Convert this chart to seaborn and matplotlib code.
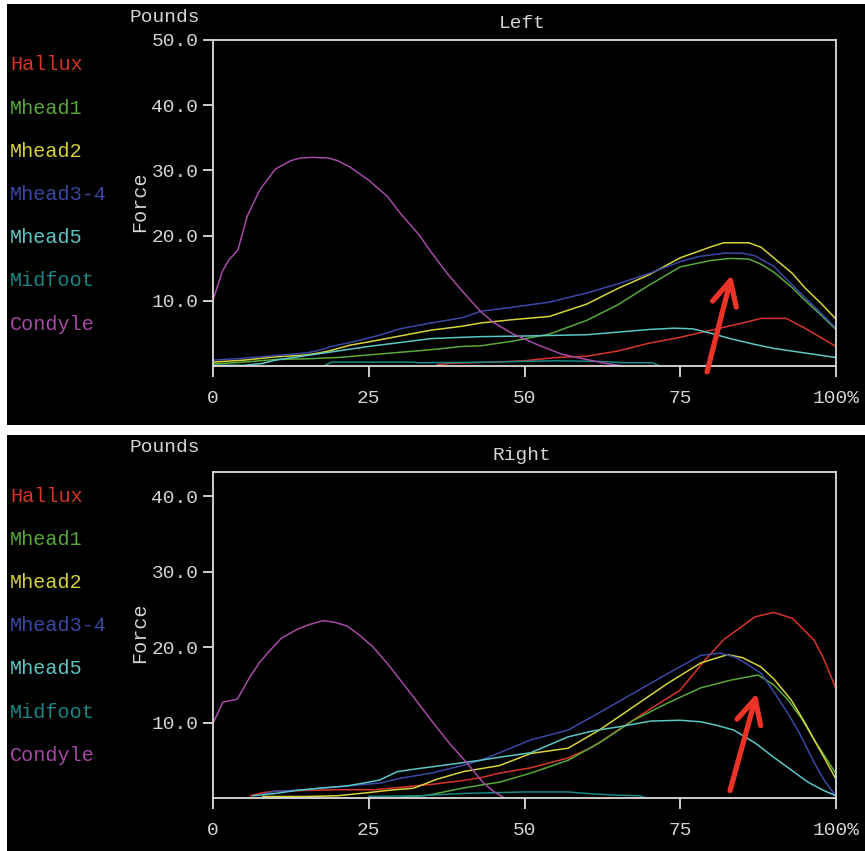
import matplotlib
matplotlib.use("Agg")
import matplotlib.pyplot as plt
from matplotlib.patches import Rectangle
import seaborn as sns
import pandas as pd

# ---- series names and colours ----
regions = ["Hallux", "Mhead1", "Mhead2", "Mhead3-4", "Mhead5", "Midfoot", "Condyle"]
region_colors = ["#d8352a", "#58a83a", "#d6d23a", "#3a48a6", "#5cc6c6", "#188888", "#a64aa6"]

x_ticks = [0, 25, 50, 75, 100]
x_tick_labels = ["0", "25", "50", "75", "100%"]
left_y_ticks = [10, 20, 30, 40, 50]
right_y_ticks = [10, 20, 30, 40]

# ---- Left foot: % of stance vs. force (lb) ----
left_hallux_x = [36, 38, 45, 50, 55, 60, 65, 70, 75, 80, 85, 88, 92, 95, 100]
left_hallux_y = [0.2, 0.4, 0.6, 0.8, 1.3, 1.5, 2.3, 3.5, 4.4, 5.5, 6.6, 7.3, 7.3, 5.8, 3.0]
left_mhead1_x = [0, 5, 10, 15, 20, 25, 30, 35, 40, 43, 48, 54, 60, 65, 70, 75, 80, 83, 86, 88, 90, 93, 95, 97.5, 100]
left_mhead1_y = [0.3, 0.6, 1.0, 1.1, 1.3, 1.7, 2.1, 2.5, 3.0, 3.1, 3.8, 4.9, 7.0, 9.4, 12.4, 15.2, 16.2, 16.5, 16.4, 15.6, 14.4, 12.0, 10.1, 7.9, 5.6]
left_mhead2_x = [0, 5, 10, 15, 17, 19, 22, 25, 30, 35, 40, 43, 48, 54, 60, 65, 70, 75, 80, 82, 86, 88, 90, 93, 95, 97.5, 100]
left_mhead2_y = [0.6, 0.9, 1.4, 1.7, 2.0, 2.4, 3.2, 3.7, 4.6, 5.5, 6.1, 6.6, 7.1, 7.6, 9.5, 11.9, 14.0, 16.6, 18.3, 18.9, 18.9, 18.2, 16.6, 14.2, 12.0, 9.7, 7.2]
left_mhead34_x = [0, 5, 10, 15, 17, 19, 22, 25, 27, 30, 35, 40, 43, 48, 54, 60, 65, 70, 75, 78, 82, 85, 87, 90, 93, 95, 97.5, 100]
left_mhead34_y = [0.9, 1.2, 1.6, 2.0, 2.4, 3.0, 3.6, 4.3, 4.8, 5.7, 6.6, 7.4, 8.4, 9.0, 9.8, 11.2, 12.6, 14.2, 16.0, 16.8, 17.3, 17.3, 16.9, 15.3, 12.4, 10.5, 8.2, 5.8]
left_mhead5_x = [0, 5, 8, 10, 15, 20, 25, 30, 35, 40, 43, 50, 55, 60, 65, 70, 74, 77, 80, 83, 87, 90, 95, 100]
left_mhead5_y = [0.1, 0.1, 0.4, 0.9, 1.6, 2.3, 3.0, 3.6, 4.2, 4.4, 4.5, 4.6, 4.7, 4.8, 5.2, 5.6, 5.8, 5.7, 5.0, 4.2, 3.3, 2.7, 2.0, 1.3]
left_midfoot_x = [18, 19, 32, 33, 45, 55, 62, 66, 70.5, 71.5]
left_midfoot_y = [0.1, 0.6, 0.6, 0.5, 0.6, 0.8, 0.7, 0.5, 0.5, 0.1]
left_condyle_x = [0, 1.5, 2.5, 4, 5.5, 7.5, 10, 12.5, 14, 16, 18.5, 20, 22, 25, 28, 30, 33, 35, 37.5, 40, 43, 45, 48, 52, 56, 60, 63, 66]
left_condyle_y = [10.1, 14.5, 16.2, 17.8, 23.0, 27.0, 30.2, 31.5, 31.9, 32.0, 31.9, 31.5, 30.5, 28.5, 26.0, 23.5, 20.2, 17.5, 14.3, 11.5, 8.3, 6.7, 5.0, 3.3, 1.8, 1.0, 0.4, 0.0]

# ---- Right foot ----
right_hallux_x = [6, 8, 10, 15, 20, 26, 30, 35, 40, 43, 46, 51, 57, 61, 65, 70, 75, 79, 82, 84, 87, 90, 93, 96.5, 98, 100]
right_hallux_y = [0.3, 0.7, 0.9, 1.0, 1.1, 1.1, 1.4, 1.8, 2.3, 2.7, 3.3, 4.0, 5.3, 6.8, 9.0, 11.7, 14.3, 18.3, 21.0, 22.2, 24.0, 24.6, 23.8, 20.9, 18.5, 14.5]
right_mhead1_x = [30, 34, 36.5, 40, 42.9, 46, 51, 57, 62, 67.5, 73, 78.3, 83, 87.5, 90, 92.3, 94.5, 96.5, 98, 100]
right_mhead1_y = [0.1, 0.3, 0.7, 1.3, 1.7, 2.1, 3.3, 5.0, 7.3, 10.3, 12.6, 14.6, 15.6, 16.3, 15.0, 13.0, 10.5, 7.7, 5.8, 3.2]
right_mhead2_x = [8, 15, 20, 24.8, 28, 32.2, 36, 40.2, 46, 51, 57, 62, 67.5, 73, 78.3, 82.6, 85, 87.9, 90, 92.8, 95, 96.5, 98, 100]
right_mhead2_y = [0.2, 0.2, 0.3, 0.7, 1.0, 1.3, 2.5, 3.5, 4.3, 5.9, 6.6, 9.0, 12.1, 15.2, 17.9, 19.0, 18.6, 17.4, 15.8, 13.0, 10.0, 7.7, 5.5, 2.5]
right_mhead34_x = [8, 10, 15, 19, 23, 27, 30, 35, 40, 43, 46, 51, 57, 62, 67.5, 73, 78.3, 81.5, 84, 86, 88, 90, 92.3, 94, 96.5, 98, 100]
right_mhead34_y = [0.5, 0.9, 1.1, 1.4, 1.7, 2.0, 2.6, 3.3, 4.3, 5.0, 6.0, 7.7, 9.0, 11.3, 13.9, 16.5, 18.9, 19.2, 18.6, 17.6, 16.5, 14.1, 11.2, 8.8, 4.7, 2.5, 0.2]
right_mhead5_x = [6.4, 10, 13.4, 17, 21.5, 25, 26.8, 29.6, 33, 37.6, 42.9, 46, 51, 57, 61, 64.9, 70.3, 75, 78.3, 81, 83.6, 87, 90, 93, 95.5, 98, 100]
right_mhead5_y = [0.3, 0.6, 1.0, 1.3, 1.6, 2.1, 2.4, 3.5, 3.9, 4.4, 5.0, 5.4, 6.0, 8.1, 8.9, 9.4, 10.2, 10.3, 10.1, 9.6, 9.0, 7.3, 5.4, 3.6, 2.1, 1.0, 0.3]
right_midfoot_x = [25, 33, 40, 45, 50, 57, 60, 64, 68.5, 69.5]
right_midfoot_y = [0.2, 0.3, 0.6, 0.7, 0.8, 0.8, 0.6, 0.4, 0.3, 0.0]
right_condyle_x = [0, 1.6, 3.9, 5.9, 7.5, 9.2, 11, 13.4, 15.5, 17.7, 19.5, 21.5, 23.5, 25.7, 28, 30.1, 33, 35.4, 38, 40.8, 43.4, 45, 46.6]
right_condyle_y = [9.9, 12.7, 13.1, 16.0, 18.0, 19.6, 21.2, 22.3, 23.0, 23.5, 23.3, 22.8, 21.6, 20.0, 17.8, 15.6, 12.5, 9.9, 7.2, 4.6, 2.0, 0.9, 0.1]


def long_frame(pairs):
    rows = []
    for name, xs, ys in pairs:
        for xv, yv in zip(xs, ys):
            rows.append({"pct": xv, "force": yv, "region": name})
    return pd.DataFrame(rows)


left_df = long_frame([
    ("Hallux", left_hallux_x, left_hallux_y),
    ("Mhead1", left_mhead1_x, left_mhead1_y),
    ("Mhead2", left_mhead2_x, left_mhead2_y),
    ("Mhead3-4", left_mhead34_x, left_mhead34_y),
    ("Mhead5", left_mhead5_x, left_mhead5_y),
    ("Midfoot", left_midfoot_x, left_midfoot_y),
    ("Condyle", left_condyle_x, left_condyle_y),
])
right_df = long_frame([
    ("Hallux", right_hallux_x, right_hallux_y),
    ("Mhead1", right_mhead1_x, right_mhead1_y),
    ("Mhead2", right_mhead2_x, right_mhead2_y),
    ("Mhead3-4", right_mhead34_x, right_mhead34_y),
    ("Mhead5", right_mhead5_x, right_mhead5_y),
    ("Midfoot", right_midfoot_x, right_midfoot_y),
    ("Condyle", right_condyle_x, right_condyle_y),
])

palette = dict(zip(regions, region_colors))

W, H = 865, 851
fig = plt.figure(figsize=(W / 100, H / 100), dpi=100)
fig.patch.set_facecolor("white")

MONO = ["Liberation Mono", "DejaVu Sans Mono"]
TXT = "#d4d4d4"
AX = "#dcdcdc"


def fx(px):
    return px / W


def fy(py):
    return 1 - py / H


# black screen panels, kept beneath the axes
for top, bot in [(4, 425), (435, 851)]:
    fig.patches.append(Rectangle((fx(7), fy(bot)), 1 - fx(7), (bot - top) / H,
                                 transform=fig.transFigure, facecolor="black",
                                 edgecolor="none", zorder=-5))


def make_panel(df, title, top_px, bot_px, ymax, yticks, offset, arrow):
    ax = fig.add_axes([fx(213), fy(bot_px), fx(836) - fx(213), (bot_px - top_px) / H])
    ax.set_zorder(2)
    ax.set_facecolor("black")
    sns.lineplot(data=df, x="pct", y="force", hue="region", hue_order=regions,
                 palette=palette, estimator=None, errorbar=None, legend=False,
                 linewidth=1.1, ax=ax)
    ax.set_xlim(0, 100)
    ax.set_ylim(0, ymax)
    ax.set_xticks(x_ticks)
    ax.set_xticklabels(x_tick_labels)
    ax.set_yticks(yticks)
    ax.set_yticklabels([f"{v:.1f}" for v in yticks])
    ax.set_xlabel("")
    ax.set_ylabel("")
    for s in ax.spines.values():
        s.set_color(AX)
        s.set_linewidth(1.3)
    ax.tick_params(axis="x", colors=AX, length=8, width=1.3, pad=9,
                   labelcolor=TXT, labelsize=14)
    ax.tick_params(axis="y", colors=AX, length=7.5, width=1.3, pad=3,
                   labelcolor=TXT, labelsize=14)
    for lab in ax.get_xticklabels() + ax.get_yticklabels():
        lab.set_fontfamily(MONO)
    ax.grid(False)

    fig.text(fx(522), fy(top_px - 17), title, color=TXT, family=MONO,
             fontsize=14, ha="center", va="center", zorder=3)
    fig.text(fx(165), fy(offset + 13), "Pounds", color=TXT, family=MONO,
             fontsize=14, ha="center", va="center", zorder=3)
    fig.text(fx(140), fy(offset + 198), "Force", color=TXT, family=MONO,
             fontsize=14.5, ha="center", va="center", rotation=90, zorder=3)
    for i, (name, col) in enumerate(zip(regions, region_colors)):
        fig.text(fx(10), fy(offset + 61 + 43.2 * i), name, color=col, family=MONO,
                 fontsize=14.5, ha="left", va="center", zorder=3)

    (x0, y0), (x1, y1) = arrow
    ax.annotate("", xy=(x1, y1), xytext=(x0, y0),
                arrowprops=dict(arrowstyle="->,head_length=0.8,head_width=0.4",
                                color="#ec3328", lw=3.8, mutation_scale=22,
                                shrinkA=0, shrinkB=0),
                annotation_clip=False)
    return ax


make_panel(left_df, "Left", 40, 366, 50, left_y_ticks, 4,
           ((79.3, -0.9), (83.3, 14.0)))
make_panel(right_df, "Right", 472, 798, 43.2, right_y_ticks, 435,
           ((83.0, 1.0), (87.3, 13.9)))

fig.savefig("out.png", dpi=100, facecolor=fig.get_facecolor())
